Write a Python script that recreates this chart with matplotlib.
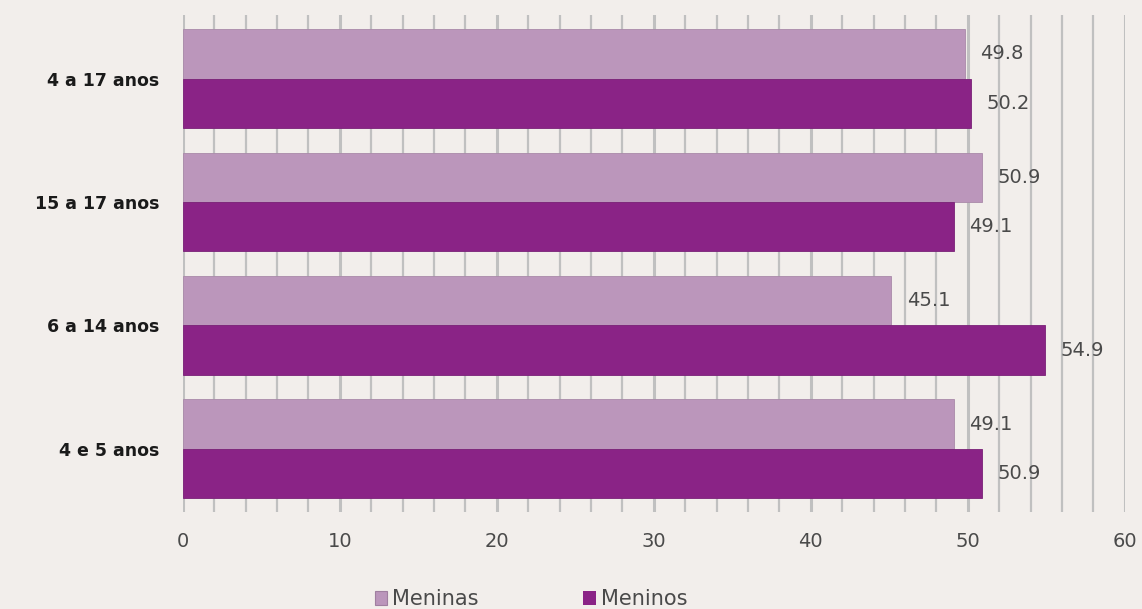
import numpy as np
import matplotlib.pyplot as plt
from matplotlib.patches import Patch

# Distribuição por sexo (%) — faixas etárias
faixas = ["4 e 5 anos", "6 a 14 anos", "15 a 17 anos", "4 a 17 anos"]
meninas = [49.1, 45.1, 50.9, 49.8]
meninos = [50.9, 54.9, 49.1, 50.2]

cor_meninas = "#bb96bb"
cor_meninos = "#8a2386"
fundo = "#f2eeeb"
cinza_txt = "#4a4a4a"

plt.rcParams["font.family"] = ["DejaVu Sans"]

fig = plt.figure(figsize=(11.42, 6.09), dpi=100, facecolor=fundo)
ax = fig.add_axes([0.160, 0.159, 0.825, 0.816], facecolor=fundo)

y = np.arange(len(faixas))
h = 0.4
b1 = ax.barh(y + h / 2, meninas, height=h, color=cor_meninas,
             edgecolor="#a98aa9", linewidth=0.6, zorder=3)
b2 = ax.barh(y - h / 2, meninos, height=h, color=cor_meninos,
             edgecolor="#7a2077", linewidth=0.6, zorder=3)

for bars, vals in ((b1, meninas), (b2, meninos)):
    for bar, v in zip(bars, vals):
        ax.text(v + 1.0, bar.get_y() + bar.get_height() / 2, f"{v:.1f}",
                va="center", ha="left", fontsize=14, color=cinza_txt)

# grade vertical a cada 2 unidades (mais grossa nas dezenas)
for gx in np.arange(0, 62, 2):
    ax.axvline(gx, color="#c0c0c0", lw=2.2 if gx % 10 == 0 else 1.6, zorder=1)

ax.set_xlim(0, 60)
ax.set_ylim(-0.513, 3.513)
ax.set_xticks(np.arange(0, 61, 10))
ax.set_yticks(y)
ax.set_yticklabels(faixas, fontsize=12.5, fontweight="bold", color="#1a1a1a")
ax.tick_params(axis="x", length=0, pad=14, labelsize=14, labelcolor=cinza_txt)
ax.tick_params(axis="y", length=0, pad=17)
for s in ax.spines.values():
    s.set_visible(False)

handles = [Patch(facecolor=cor_meninas, edgecolor="#a07fa0", linewidth=0.8),
           Patch(facecolor=cor_meninos, edgecolor="none")]
fig.legend(handles, ["Meninas", "Meninos"], loc="center",
           bbox_to_anchor=(0.465, 0.016), ncol=2, frameon=False,
           fontsize=15, handlelength=0.6, handleheight=0.6,
           handletextpad=0.25, columnspacing=5.0, labelcolor=cinza_txt,
           borderpad=0)

fig.savefig("out.png", dpi=100, facecolor=fundo)
